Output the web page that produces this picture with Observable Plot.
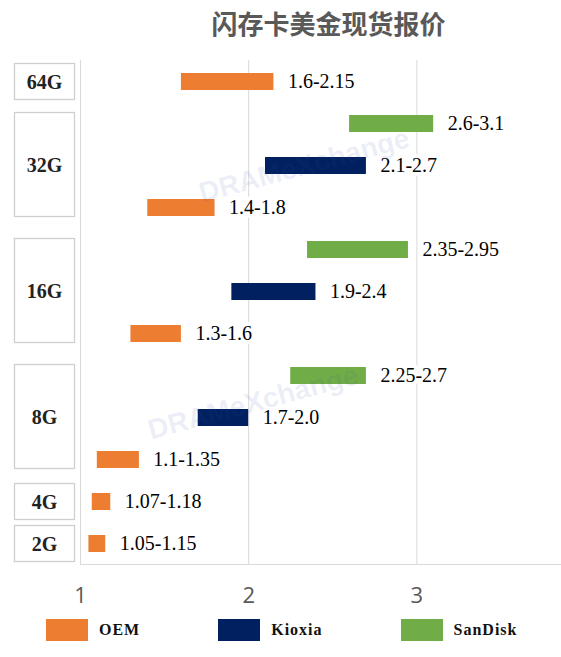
<!DOCTYPE html>
<html>
<head>
<meta charset="utf-8">
<script src="https://cdn.jsdelivr.net/npm/d3@7"></script>
<script src="https://cdn.jsdelivr.net/npm/@observablehq/plot@0.6"></script>
<style>
  html, body { margin: 0; padding: 0; background: #fff; }
  #wrap { position: relative; width: 561px; height: 657px; overflow: hidden; }
  #title { position: absolute; top: 8px; left: 96px; width: 465px; text-align: center;
           font: bold 26px/30px "Noto Sans CJK SC", "Noto Sans", sans-serif; color: #595959; }
  #chart { position: absolute; top: 48px; left: 0; }
  #legend { position: absolute; top: 619px; left: 46px; display: flex; gap: 78px; align-items: center; }
  .item { display: flex; align-items: center; }
  .sw { width: 42px; height: 22px; display: inline-block; }
  .lab { margin-left: 11px; font: bold 16px "Liberation Serif", serif; letter-spacing: 1px; color: #111; }
</style>
</head>
<body>
<div id="wrap">
  <div id="title"></div>
  <div id="chart"></div>
  <div id="legend"></div>
</div>
<script>
const title = "闪存卡美金现货报价";
const groups = ["64G", "32G", "16G", "8G", "4G", "2G"];
const rowGroup = ["64G", "32G", "32G", "32G", "16G", "16G", "16G", "8G", "8G", "8G", "4G", "2G"];
const rowBrand = ["OEM", "SanDisk", "Kioxia", "OEM", "SanDisk", "Kioxia", "OEM", "SanDisk", "Kioxia", "OEM", "OEM", "OEM"];
const lows  = [1.6, 2.6, 2.1, 1.4, 2.35, 1.9, 1.3, 2.25, 1.7, 1.1, 1.07, 1.05];
const highs = [2.15, 3.1, 2.7, 1.8, 2.95, 2.4, 1.6, 2.7, 2.0, 1.35, 1.18, 1.15];
const brands = ["OEM", "Kioxia", "SanDisk"];
const brandColors = ["#ED7D31", "#002060", "#70AD47"];
const xTicks = [1, 2, 3];
const watermark = "DRAMeXchange";

const rows = lows.map((low, i) => ({id: i, group: rowGroup[i], brand: rowBrand[i], low, high: highs[i]}));
const fmt = n => Number.isInteger(n) ? n.toFixed(1) : String(n);

document.getElementById("title").textContent = title;

const chart = Plot.plot({
  width: 561,
  height: 562,
  marginTop: 12,
  marginBottom: 46,
  marginLeft: 80,
  marginRight: 0,
  x: {domain: [1, 3.86], axis: null},
  y: {domain: rows.map(d => d.id), axis: null, paddingInner: 0.6, paddingOuter: 0.3},
  color: {domain: brands, range: brandColors},
  marks: [
    Plot.ruleX(xTicks, {stroke: "#d9d9d9", strokeWidth: 1}),
    Plot.frame({anchor: "bottom", stroke: "#d9d9d9"}),
    Plot.barX(rows, {x1: "low", x2: "high", y: "id", fill: "brand"}),
    Plot.text(rows, {
      x: "high", y: "id", text: d => fmt(d.low) + "-" + fmt(d.high),
      dx: 14, textAnchor: "start", fontSize: 20, fontFamily: "Liberation Serif",
      fill: "#000", stroke: "white", strokeWidth: 8, paintOrder: "stroke"
    }),
    Plot.text(xTicks, {
      x: d => d, frameAnchor: "bottom", dy: 31, text: d => String(d),
      fontSize: 22, fontFamily: "Open Sans", fill: "#595959", lineAnchor: "middle"
    })
  ]
});
document.getElementById("chart").appendChild(chart);

// group boxes in the left margin, placed with the chart's y scale
const ys = chart.scale("y");
const svg = d3.select(chart);
const gBox = svg.append("g");
groups.forEach(g => {
  const ids = rows.filter(r => r.group === g).map(r => r.id);
  const c0 = ys.apply(ids[0]) + ys.bandwidth / 2;
  const c1 = ys.apply(ids[ids.length - 1]) + ys.bandwidth / 2;
  const multi = ids.length > 1;
  const top = c0 - ys.step / 2 + (multi ? 10 : 3);
  const bot = c1 + ys.step / 2 - (multi ? 12 : 3);
  gBox.append("rect")
    .attr("x", 14.5).attr("y", top).attr("width", 60).attr("height", bot - top)
    .attr("fill", "#fff").attr("stroke", "#cfcfcf").attr("stroke-width", 1.3);
  gBox.append("text")
    .attr("x", 44.5).attr("y", (top + bot) / 2).attr("dy", "0.35em")
    .attr("text-anchor", "middle")
    .attr("font-family", "Liberation Serif").attr("font-weight", "bold").attr("font-size", 20)
    .attr("fill", "#222").text(g);
});

// faint watermark
[[304, 117], [253, 354]].forEach(([cx, cy]) => {
  svg.append("text")
    .attr("transform", `translate(${cx},${cy}) rotate(-15)`)
    .attr("text-anchor", "middle").attr("dy", "0.35em")
    .attr("font-family", "Liberation Sans").attr("font-weight", "bold").attr("font-size", 28)
    .attr("fill", "#3050a0").attr("fill-opacity", 0.1)
    .text(watermark);
});

// legend
const legend = d3.select("#legend");
brands.forEach((b, i) => {
  const it = legend.append("div").attr("class", "item");
  it.append("span").attr("class", "sw").style("background", brandColors[i]);
  it.append("span").attr("class", "lab").text(b);
});
</script>
</body>
</html>
